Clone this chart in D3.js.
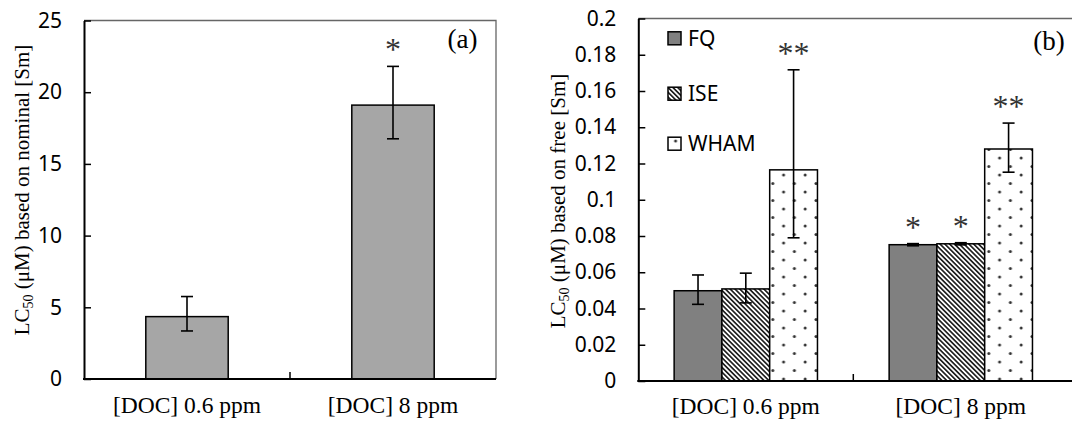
<!DOCTYPE html>
<html><head><meta charset="utf-8">
<script src="https://cdn.jsdelivr.net/npm/d3@7"></script>
<style>
html,body{margin:0;padding:0;background:#fff;}
svg{display:block;}
</style>
</head><body>
<svg id="chart" width="1072" height="425"></svg>
<script>
// ---------- data ----------
const categories = ["[DOC] 0.6 ppm", "[DOC] 8 ppm"];
// panel (a): nominal
const nominalValues = [4.35, 19.1];
const nominalErrUp  = [1.4, 2.7];
const nominalErrLow = [1.0, 2.35];
const nominalStars  = ["", "*"];
const yTicksA = [0, 5, 10, 15, 20, 25];
// panel (b): free
const seriesNames = ["FQ", "ISE", "WHAM"];
const fqValues   = [0.0498, 0.0752];
const iseValues  = [0.0508, 0.0757];
const whamValues = [0.1165, 0.1280];
const fqErrUp    = [0.0087, 0.0006];
const fqErrLow   = [0.0075, 0.0006];
const iseErrUp   = [0.0087, 0.0006];
const iseErrLow  = [0.0077, 0.0006];
const whamErrUp  = [0.0552, 0.0143];
const whamErrLow = [0.0375, 0.0128];
const fqStars    = ["", "*"];
const iseStars   = ["", "*"];
const whamStars  = ["**", "**"];
const yTicksB = [0, 0.02, 0.04, 0.06, 0.08, 0.1, 0.12, 0.14, 0.16, 0.18, 0.2];

const seriesB = [
  {name: seriesNames[0], values: fqValues, up: fqErrUp, low: fqErrLow, stars: fqStars, fill: "#808080"},
  {name: seriesNames[1], values: iseValues, up: iseErrUp, low: iseErrLow, stars: iseStars, fill: "url(#hatch)"},
  {name: seriesNames[2], values: whamValues, up: whamErrUp, low: whamErrLow, stars: whamStars, fill: "url(#dots)"}
];

const svg = d3.select("#chart");
const serif = "Liberation Serif, Times New Roman, serif";
const sans = "Noto Sans, Open Sans, sans-serif";

// patterns
const defs = svg.append("defs");
const hatch = defs.append("pattern").attr("id","hatch").attr("patternUnits","userSpaceOnUse")
  .attr("width",3.4).attr("height",3.4).attr("patternTransform","rotate(45)");
hatch.append("rect").attr("width",3.4).attr("height",3.4).attr("fill","#fff");
hatch.append("rect").attr("width",3.4).attr("height",1.7).attr("fill","#222");
const dots = defs.append("pattern").attr("id","dots").attr("patternUnits","userSpaceOnUse")
  .attr("width",21.6).attr("height",17).attr("x",3).attr("y",2);
dots.append("rect").attr("width",21.6).attr("height",17).attr("fill","#fff");
dots.append("circle").attr("cx",3).attr("cy",3).attr("r",1.5).attr("fill","#333");
dots.append("circle").attr("cx",13.8).attr("cy",11.5).attr("r",1.5).attr("fill","#333");

function yLabel(g, x, y, rest) {
  const t = g.append("text").attr("transform", `translate(${x},${y}) rotate(-90)`)
    .attr("text-anchor","middle").attr("font-family", serif).attr("font-size", 21).attr("fill","#000");
  t.append("tspan").text("LC");
  t.append("tspan").attr("font-size", 14).attr("dy", 4).text("50");
  t.append("tspan").attr("dy", -4).text(" (μM) " + rest);
}

function errBar(g, cx, yTop, yBot, cap) {
  g.append("line").attr("x1",cx).attr("x2",cx).attr("y1",yTop).attr("y2",yBot).attr("stroke","#000").attr("stroke-width",1.6);
  g.append("line").attr("x1",cx-cap/2).attr("x2",cx+cap/2).attr("y1",yTop).attr("y2",yTop).attr("stroke","#000").attr("stroke-width",1.6);
  g.append("line").attr("x1",cx-cap/2).attr("x2",cx+cap/2).attr("y1",yBot).attr("y2",yBot).attr("stroke","#000").attr("stroke-width",1.6);
}

function star(g, cx, yt, s) {
  g.append("text").attr("x", cx).attr("y", yt - 6).attr("text-anchor","middle")
    .attr("font-family", serif).attr("font-size", 32).attr("fill","#333").text(s);
}

// ---------- panel (a) ----------
{
  const L = 84, R = 496, T = 20.5, B = 379;
  const g = svg.append("g");
  const x = d3.scaleBand().domain(categories).range([L, R]).padding(0);
  const y = d3.scaleLinear().domain([0, 25]).range([B, T]);
  g.append("path").attr("d", `M${L},${T}H${R}V${B}`).attr("fill","none").attr("stroke","#666").attr("stroke-width",1.3);
  const bw = x.bandwidth() * 0.4;
  categories.forEach((c, i) => {
    const cx = x(c) + x.bandwidth()/2;
    g.append("rect").attr("x", cx - bw/2).attr("y", y(nominalValues[i])).attr("width", bw)
      .attr("height", B - y(nominalValues[i])).attr("fill","#a6a6a6").attr("stroke","#000").attr("stroke-width",1.5);
    const yt = y(nominalValues[i] + nominalErrUp[i]);
    errBar(g, cx, yt, y(nominalValues[i] - nominalErrLow[i]), 12);
    if (nominalStars[i]) star(g, cx, yt, nominalStars[i]);
    g.append("text").attr("x", cx).attr("y", B + 34).attr("text-anchor","middle")
      .attr("font-family", serif).attr("font-size", 23.5).attr("fill","#000").text(c);
  });
  const ax = g.append("g").attr("transform", `translate(${L},0)`)
    .call(d3.axisLeft(y).tickValues(yTicksA).tickSizeInner(-7).tickSizeOuter(0).tickPadding(22).tickFormat(d3.format("d")));
  ax.select(".domain").attr("stroke","#000").attr("stroke-width",2);
  ax.selectAll(".tick line").attr("stroke","#000").attr("stroke-width",1.5);
  ax.selectAll(".tick text").attr("font-family", sans).attr("font-size", 21).attr("fill","#000");
  g.append("line").attr("x1", L-1).attr("x2", R).attr("y1", B).attr("y2", B).attr("stroke","#000").attr("stroke-width",2);
  g.append("line").attr("x1", x(categories[1])).attr("x2", x(categories[1])).attr("y1", B).attr("y2", B-7).attr("stroke","#000").attr("stroke-width",1.5);
  yLabel(g, 29, 190, "based on nominal [Sm]");
  g.append("text").attr("x", 462.5).attr("y", 48).attr("text-anchor","middle")
    .attr("font-family", serif).attr("font-size", 27).attr("fill","#000").text("(a)");
}

// ---------- panel (b) ----------
{
  const L = 638.3, R = 1068.3, T = 18.5, B = 381;
  const g = svg.append("g");
  const x = d3.scaleBand().domain(categories).range([L, R]).padding(0);
  const xs = d3.scaleBand().domain(seriesNames).range([x.bandwidth()/6, x.bandwidth()*5/6]).padding(0);
  const y = d3.scaleLinear().domain([0, 0.2]).range([B, T]);
  g.append("path").attr("d", `M${L},${T}H${R+20}`).attr("fill","none").attr("stroke","#666").attr("stroke-width",1.3);
  seriesB.forEach(s => {
    categories.forEach((c, i) => {
      const x0 = x(c) + xs(s.name);
      g.append("rect").attr("x", x0).attr("y", y(s.values[i])).attr("width", xs.bandwidth())
        .attr("height", B - y(s.values[i])).attr("fill", s.fill).attr("stroke","#000").attr("stroke-width",1.5);
    });
  });
  seriesB.forEach(s => {
    categories.forEach((c, i) => {
      const cx = x(c) + xs(s.name) + xs.bandwidth()/2;
      const yt = y(s.values[i] + s.up[i]);
      errBar(g, cx, yt, y(s.values[i] - s.low[i]), 12);
      if (s.stars[i]) star(g, cx, yt, s.stars[i]);
    });
  });
  categories.forEach(c => {
    g.append("text").attr("x", x(c) + x.bandwidth()/2).attr("y", B + 33).attr("text-anchor","middle")
      .attr("font-family", serif).attr("font-size", 23.5).attr("fill","#000").text(c);
  });
  const ax = g.append("g").attr("transform", `translate(${L},0)`)
    .call(d3.axisLeft(y).tickValues(yTicksB).tickSizeInner(-7).tickSizeOuter(0).tickPadding(22).tickFormat(d => String(+d.toFixed(2))));
  ax.select(".domain").attr("stroke","#000").attr("stroke-width",2);
  ax.selectAll(".tick line").attr("stroke","#000").attr("stroke-width",1.5);
  ax.selectAll(".tick text").attr("font-family", sans).attr("font-size", 21).attr("fill","#000");
  g.append("line").attr("x1", L-1).attr("x2", R+20).attr("y1", B).attr("y2", B).attr("stroke","#000").attr("stroke-width",2);
  g.append("line").attr("x1", x(categories[1])).attr("x2", x(categories[1])).attr("y1", B).attr("y2", B-7).attr("stroke","#000").attr("stroke-width",1.5);
  yLabel(g, 565, 201, "based on free [Sm]");
  g.append("text").attr("x", 1049).attr("y", 50).attr("text-anchor","middle")
    .attr("font-family", serif).attr("font-size", 27).attr("fill","#000").text("(b)");
  const legY = [38.3, 93.7, 143.7];
  seriesB.forEach((s, i) => {
    g.append("rect").attr("x", 668).attr("y", legY[i] - 6.5).attr("width", 13).attr("height", 13)
      .attr("fill", s.fill).attr("stroke","#000").attr("stroke-width",1.5);
    g.append("text").attr("x", 688).attr("y", legY[i]).attr("dy","0.36em")
      .attr("font-family", sans).attr("font-size", 21).attr("fill","#000").text(s.name);
  });
}
</script>
</body></html>
